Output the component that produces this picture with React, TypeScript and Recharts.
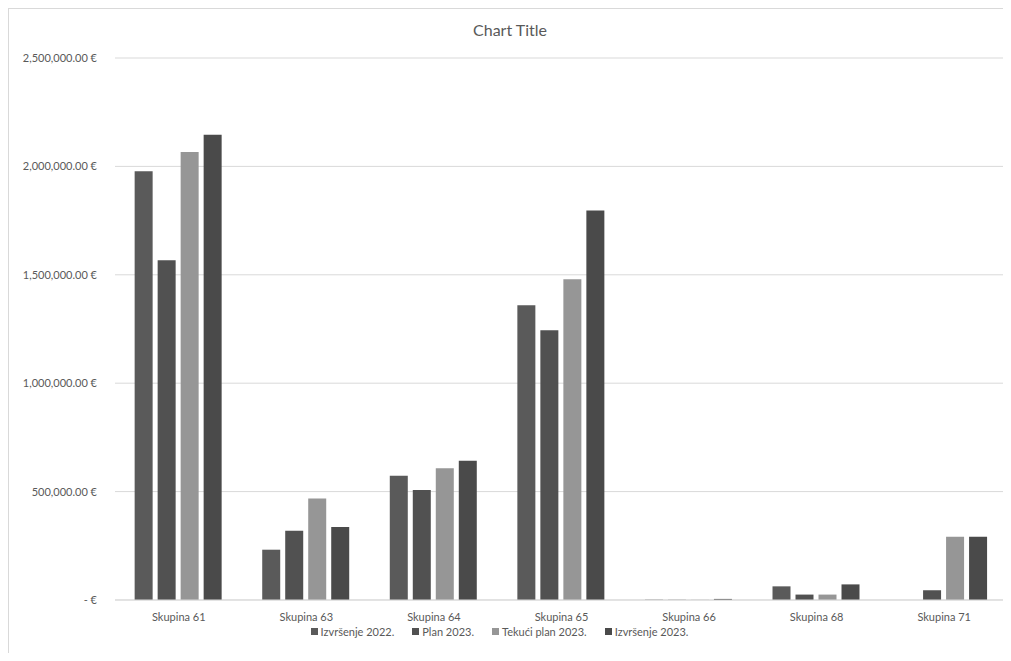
import React from 'react';
import { BarChart, Bar, XAxis, YAxis, CartesianGrid, Legend } from 'recharts';

const categories = ['Skupina 61', 'Skupina 63', 'Skupina 64', 'Skupina 65', 'Skupina 66', 'Skupina 68', 'Skupina 71'];
const izvrsenje2022 = [1978000, 232000, 573000, 1359000, 1500, 63000, 0];
const plan2023 = [1567000, 319000, 507000, 1244000, 1000, 25000, 45000];
const tekuciPlan2023 = [2066000, 468000, 608000, 1479000, 800, 25000, 292000];
const izvrsenje2023 = [2146000, 337000, 642000, 1797000, 5000, 72000, 292000];
const yTicks = [0, 500000, 1000000, 1500000, 2000000, 2500000];

const series = [
    { key: 'izv22', name: 'Izvršenje 2022.', color: '#5a5a5a' },
    { key: 'plan23', name: 'Plan 2023.', color: '#515151' },
    { key: 'tek23', name: 'Tekući plan 2023.', color: '#969696' },
    { key: 'izv23', name: 'Izvršenje 2023.', color: '#4a4a4a' },
];

const data = categories.map((name, i) => ({
    name,
    izv22: izvrsenje2022[i],
    plan23: plan2023[i],
    tek23: tekuciPlan2023[i],
    izv23: izvrsenje2023[i],
}));

const FONT = 'Lato, "Open Sans", sans-serif';
const TEXT = '#595959';

const formatEuro = (v: number) => {
    if (v === 0) return '-   €';
    return v.toLocaleString('en-US', { minimumFractionDigits: 2, maximumFractionDigits: 2 }) + ' €';
};

// keep legend in series order (recharts sorts the payload by default)
const renderLegend = () => (
    <div style={{ display: 'flex', justifyContent: 'center', fontFamily: FONT, fontSize: 11, color: TEXT }}>
        {series.map((s) => (
            <div key={s.key} style={{ display: 'flex', alignItems: 'center', marginRight: 18 }}>
                <span style={{ width: 7, height: 7, background: s.color, display: 'inline-block', marginRight: 3 }} />
                {s.name}
            </div>
        ))}
    </div>
);

export default function App() {
    return (
        <div style={{ position: 'relative', width: 1003, height: 653, marginBottom: -8, borderLeft: '1px solid #d9d9d9', borderTop: '1px solid #d9d9d9', boxSizing: 'border-box', background: '#fff', overflow: 'hidden' }}>
            <style>{'html, body { overflow: hidden; }'}</style>
            <div style={{ position: 'absolute', top: 11, left: 0, width: '100%', textAlign: 'center', fontFamily: FONT, fontSize: 16, color: TEXT }}>
                Chart Title
            </div>
            <BarChart
                width={1002}
                height={652}
                data={data}
                margin={{ top: 49, right: 3, left: 0, bottom: 16 }}
                barCategoryGap="15.4%"
                barGap={5}
            >
                <CartesianGrid vertical={false} stroke="#d9d9d9" />
                <XAxis
                    dataKey="name"
                    axisLine={{ stroke: '#d9d9d9' }}
                    tickLine={false}
                    tickMargin={7}
                    height={25}
                    tick={{ fill: TEXT, fontSize: 11, fontFamily: FONT }}
                />
                <YAxis
                    width={106}
                    domain={[0, 2500000]}
                    ticks={yTicks}
                    tickFormatter={formatEuro}
                    axisLine={false}
                    tickLine={false}
                    tickMargin={12}
                    tick={{ fill: TEXT, fontSize: 11, fontFamily: FONT }}
                />
                <Legend verticalAlign="bottom" height={20} content={renderLegend} />
                {series.map((s) => (
                    <Bar key={s.key} dataKey={s.key} name={s.name} fill={s.color} isAnimationActive={false} />
                ))}
            </BarChart>
        </div>
    );
}
